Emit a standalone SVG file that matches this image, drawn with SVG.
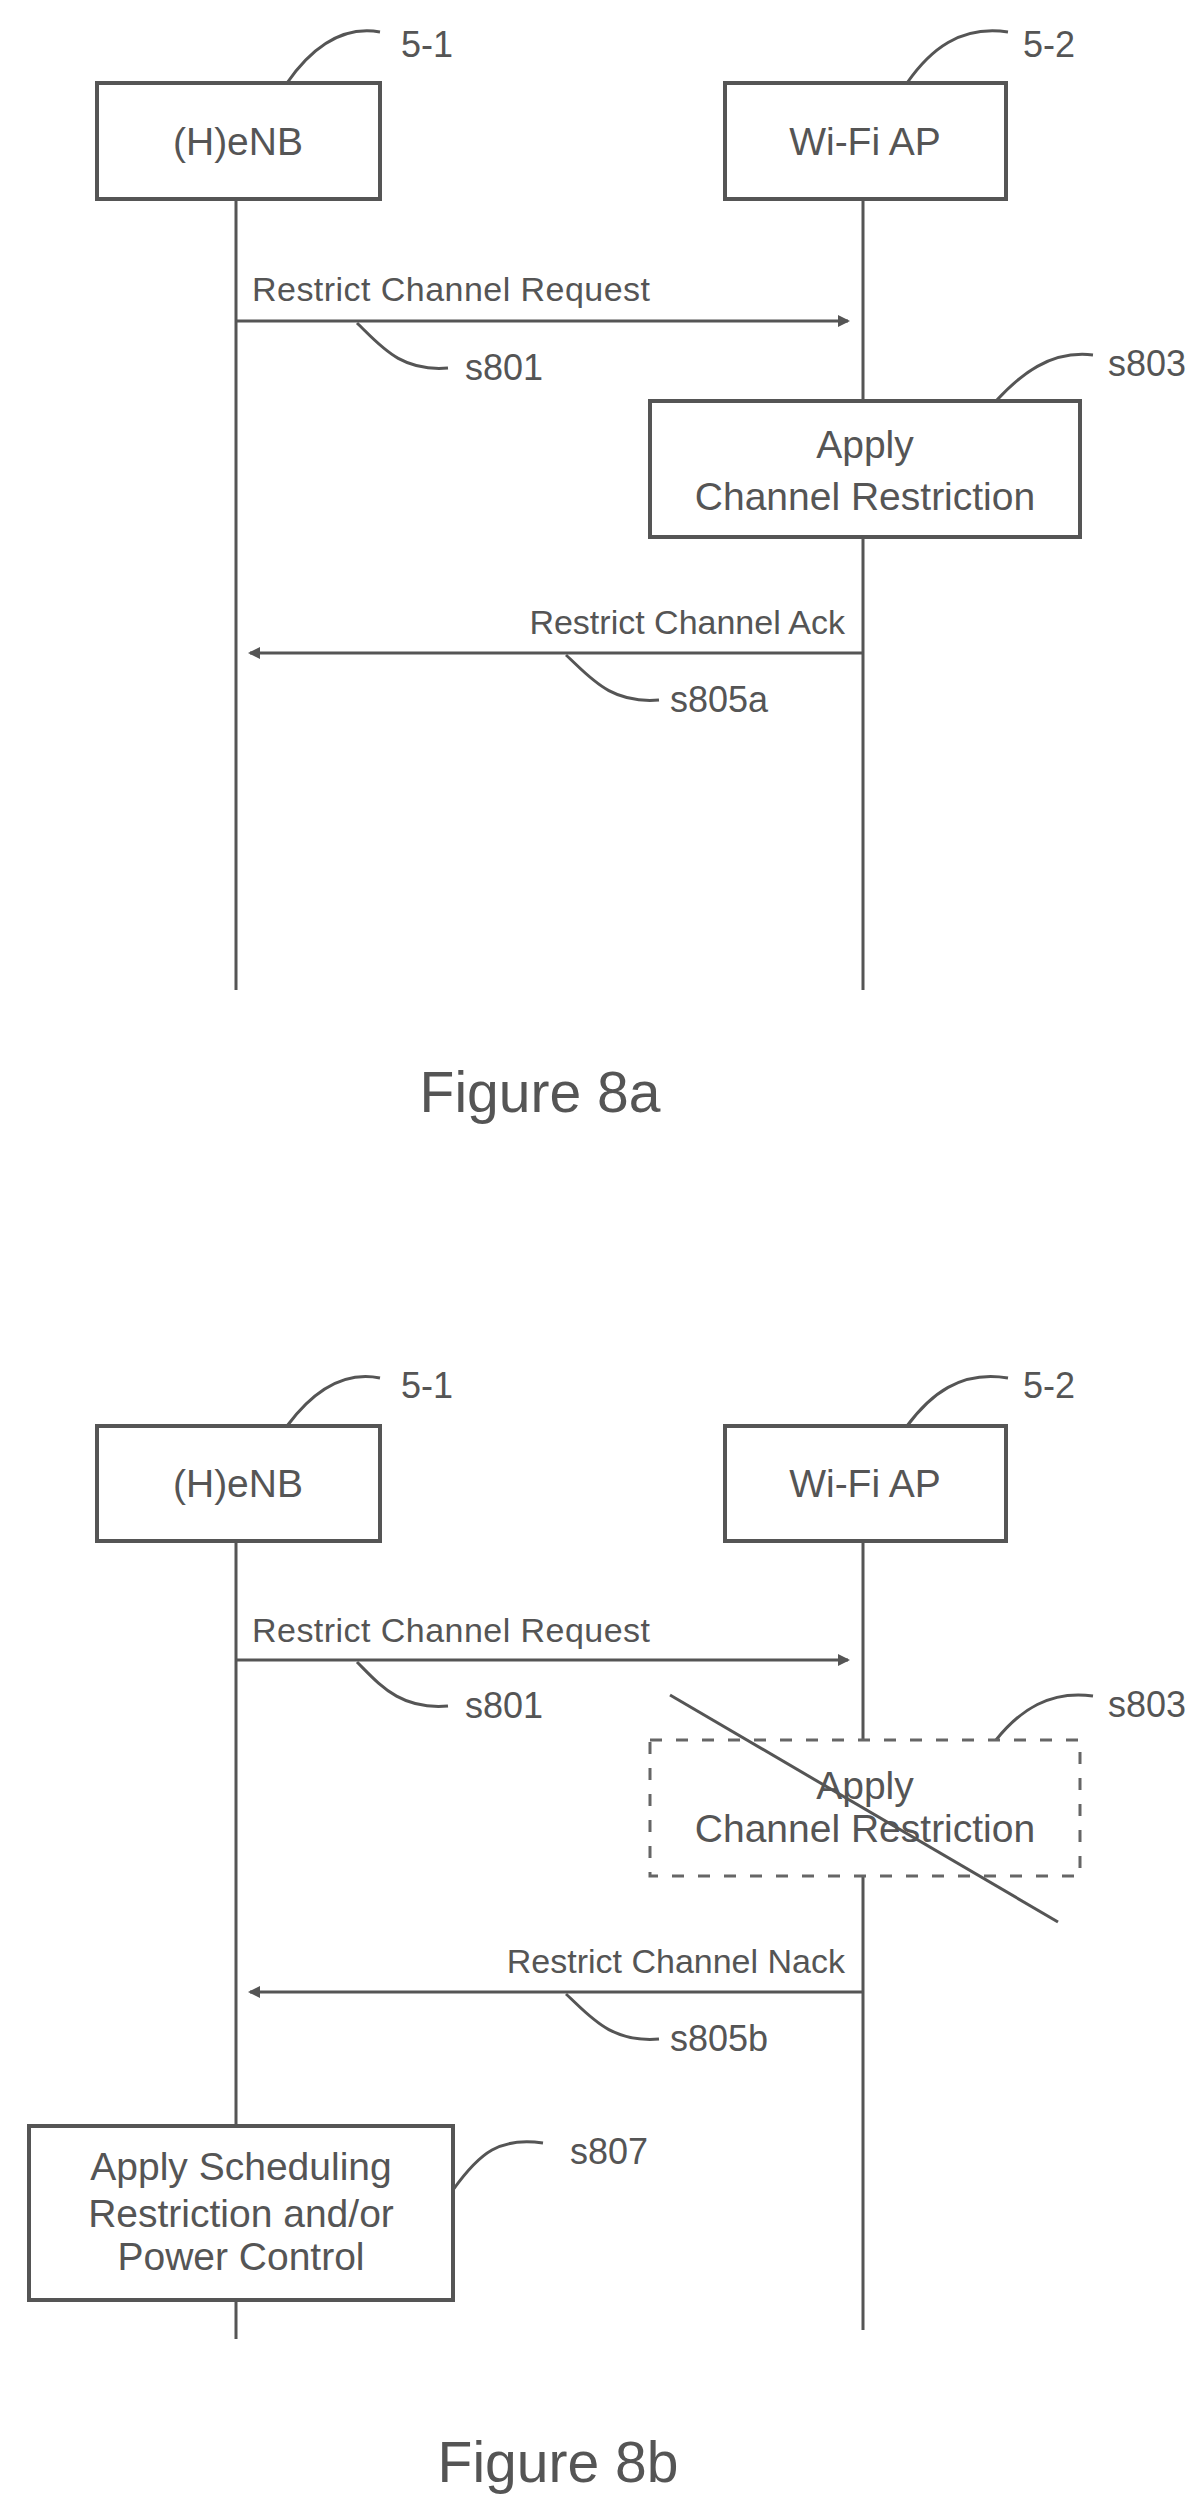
<svg xmlns="http://www.w3.org/2000/svg" width="1201" height="2506" viewBox="0 0 1201 2506">
<style>
.b{fill:#fff;stroke:#555;stroke-width:4}
.d{fill:#fff;stroke:#666;stroke-width:3;stroke-dasharray:12 14}
.l{fill:none;stroke:#555;stroke-width:3}
.t{font-family:"Liberation Sans",Arial,sans-serif;fill:#555;font-size:36px}
.g{font-size:34px}
.x{font-size:39px}
.m{text-anchor:middle}
</style>
<defs>
<marker id="a" markerWidth="12" markerHeight="12" refX="10" refY="6" orient="auto" markerUnits="userSpaceOnUse"><path d="M0,0 L12,6 L0,12 z" fill="#555"/></marker>
</defs>
<rect width="1201" height="2506" fill="#fff"/>
<g id="connectors">
<path class="l" d="M236,199 V990 M863,199 V401 M863,537 V990"/>
<path class="l" d="M236,321 H848" marker-end="url(#a)"/>
<path class="l" d="M863,653 H250" marker-end="url(#a)"/>
<path class="l" d="M357,323 C380,345 400,372 448,368"/>
<path class="l" d="M996,401 C1020,375 1050,350 1093,355"/>
<path class="l" d="M566,655 C590,677 610,704 659,700"/>
<path class="l" d="M287,83 C310,50 340,25 380,32"/>
<path class="l" d="M907,83 C930,50 960,25 1008,32"/>
<path class="l" d="M236,1541 V2126 M236,2300 V2339 M863,1541 V1740 M863,1876 V2330"/>
<path class="l" d="M236,1660 H848" marker-end="url(#a)"/>
<path class="l" d="M863,1992 H250" marker-end="url(#a)"/>
<path class="l" d="M357,1662 C380,1685 400,1710 448,1706"/>
<path class="l" d="M996,1740 C1020,1710 1050,1690 1093,1696"/>
<path class="l" d="M566,1994 C590,2016 610,2043 659,2039"/>
<path class="l" d="M287,1426 C310,1395 340,1370 380,1378"/>
<path class="l" d="M907,1426 C930,1395 960,1370 1008,1378"/>
<path class="l" d="M453,2190 C480,2152 500,2137 543,2143"/>
</g>
<g id="n51a"><rect class="b" x="97" y="83" width="283" height="116"/><text class="t x m" x="238" y="155">(H)eNB</text></g>
<g id="n52a"><rect class="b" x="725" y="83" width="281" height="116"/><text class="t x m" x="865" y="155">Wi-Fi AP</text></g>
<g id="s803a"><rect class="b" x="650" y="401" width="430" height="136"/><text class="t x m" x="865" y="458">Apply</text><text class="t x m" x="865" y="510">Channel Restriction</text></g>
<g id="labelsA">
<text class="t" x="401" y="57">5-1</text><text class="t" x="1023" y="57">5-2</text>
<text class="t g" x="252" y="301" textLength="398">Restrict Channel Request</text>
<text class="t" x="465" y="380">s801</text><text class="t" x="1108" y="376">s803</text>
<text class="t g" x="845" y="634" text-anchor="end">Restrict Channel Ack</text>
<text class="t" x="670" y="712">s805a</text>
<text class="t m" x="540" y="1112" style="font-size:57px">Figure 8a</text>
</g>
<g id="n51b"><rect class="b" x="97" y="1426" width="283" height="115"/><text class="t x m" x="238" y="1497">(H)eNB</text></g>
<g id="n52b"><rect class="b" x="725" y="1426" width="281" height="115"/><text class="t x m" x="865" y="1497">Wi-Fi AP</text></g>
<g id="s803b"><rect class="d" x="650" y="1740" width="430" height="136"/><text class="t x m" x="865" y="1799">Apply</text><text class="t x m" x="865" y="1842">Channel Restriction</text><path class="l" d="M670,1695 L1058,1922"/></g>
<g id="s807"><rect class="b" x="29" y="2126" width="424" height="174"/><text class="t x m" x="241" y="2180">Apply Scheduling</text><text class="t x m" x="241" y="2227">Restriction and/or</text><text class="t x m" x="241" y="2270">Power Control</text></g>
<g id="labelsB">
<text class="t" x="401" y="1398">5-1</text><text class="t" x="1023" y="1398">5-2</text>
<text class="t g" x="252" y="1642" textLength="398">Restrict Channel Request</text>
<text class="t" x="465" y="1718">s801</text><text class="t" x="1108" y="1717">s803</text>
<text class="t g" x="845" y="1973" text-anchor="end">Restrict Channel Nack</text>
<text class="t" x="670" y="2051">s805b</text>
<text class="t" x="570" y="2164">s807</text>
<text class="t m" x="558" y="2482" style="font-size:57px">Figure 8b</text>
</g>
</svg>
